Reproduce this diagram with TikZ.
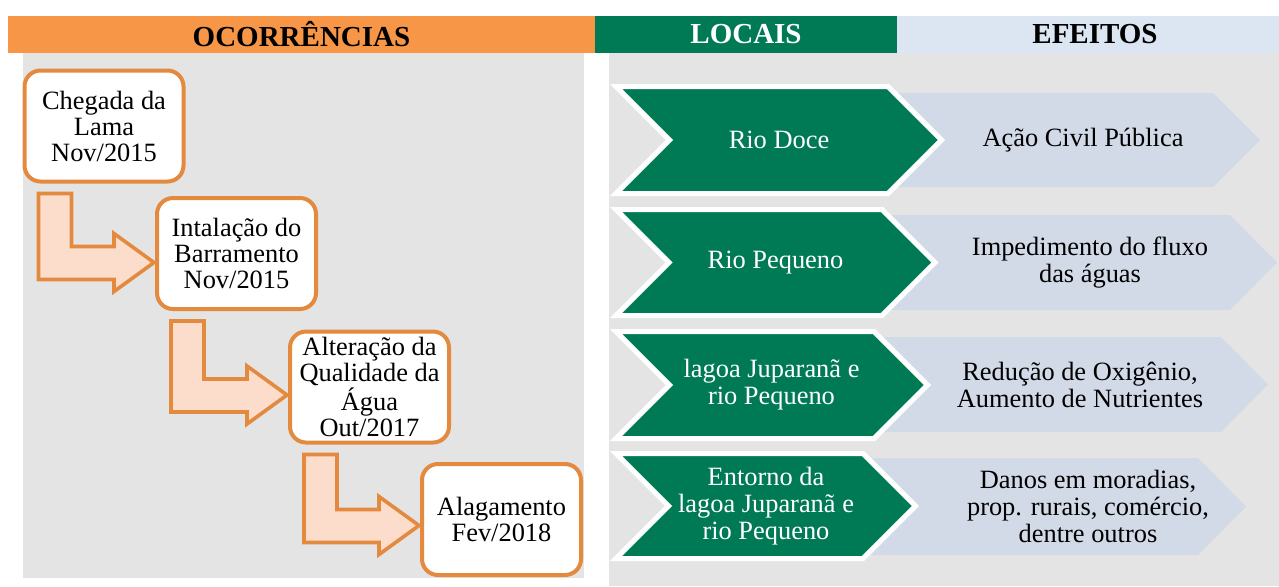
\documentclass[tikz,border=0pt]{standalone}
\usepackage{fontspec}
\setmainfont{Liberation Serif}
\usetikzlibrary{calc,positioning}
\definecolor{laranja}{HTML}{F79646}
\definecolor{verde}{HTML}{007A55}
\definecolor{azulcab}{HTML}{DCE6F2}
\definecolor{azulseta}{HTML}{D3DAE7}
\definecolor{cinza}{HTML}{E4E4E4}
\definecolor{borda}{HTML}{E38A3F}
\definecolor{pessego}{HTML}{FCDDCC}
\tikzset{
  cab/.style={minimum height=18.5pt,inner sep=0pt,font=\fontsize{14.5}{15}\selectfont\bfseries},
  ocor/.style={draw=borda,line width=2pt,fill=white,rounded corners=8pt,minimum width=79.5pt,
    minimum height=55.5pt,inner sep=0pt,align=center,font=\fontsize{13.2}{13}\selectfont},
  seta/.style={draw=borda,line width=1.8pt,fill=pessego,line join=miter},
  local/.style={fill=verde,draw=white,line width=2.5pt},
  efeito/.style={fill=azulseta},
  txt/.style={align=center,inner sep=0pt,font=\fontsize{13.2}{13.5}\selectfont}
}
\begin{document}
\begin{tikzpicture}[x=0.5pt,y=-0.5pt]
\useasboundingbox (0,0) rectangle (1279,586);
% fundos
\fill[cinza] (23,53) rectangle (584,578);
\fill[cinza] (609,53) rectangle (1279,586);
% cabecalhos
\node[cab,fill=laranja,minimum width=293.5pt] (h1) at (301.5,34.5) {OCORRÊNCIAS};
\node[cab,fill=verde,text=white,minimum width=151pt] (h2) at (746,34.5) {LOCAIS};
\node[cab,fill=azulcab,minimum width=198pt] (h3) at (1095,34.5) {EFEITOS};
% ocorrencias
\node[ocor] (c1) at (104,126) {Chegada da\\Lama\\Nov/2015};
\node[ocor] (c2) at (236.5,253.5) {Intalação do\\Barramento\\Nov/2015};
\node[ocor] (c3) at (369.5,387) {Alteração da\\Qualidade da\\Água\\Out/2017};
\node[ocor] (c4) at (501.5,519.5) {Alagamento\\Fev/2018};
\coordinate (a1) at ($(c1.south west)+(16,10)$);
\coordinate (t1) at ($(c2.west)+(-1,9)$);
\coordinate (a2) at ($(c2.south west)+(16,10)$);
\coordinate (t2) at ($(c3.west)+(-1,8)$);
\coordinate (a3) at ($(c3.south west)+(16,10)$);
\coordinate (t3) at ($(c4.west)+(-1,6)$);
\draw[seta] (a1) -- ++(33,0) |- ($(t1)+(-40,-16)$) -- ++(0,-13) -- (t1)
  -- ($(t1)+(-40,29)$) -- ++(0,-12) -| (a1) -- cycle;
\draw[seta] (a2) -- ++(33,0) |- ($(t2)+(-40,-16)$) -- ++(0,-13) -- (t2)
  -- ($(t2)+(-40,29)$) -- ++(0,-12) -| (a2) -- cycle;
\draw[seta] (a3) -- ++(33,0) |- ($(t3)+(-40,-16)$) -- ++(0,-13) -- (t3)
  -- ($(t3)+(-40,29)$) -- ++(0,-12) -| (a3) -- cycle;
% efeitos
\fill[efeito] (880,93) -- (1213,93) -- (1260,140) -- (1213,187) -- (880,187) -- (927,140) -- cycle;
\fill[efeito] (875,215) -- (1230,215) -- (1277,262.5) -- (1230,310) -- (875,310) -- (922,262.5) -- cycle;
\fill[efeito] (865,337) -- (1221,337) -- (1268,384.5) -- (1221,432) -- (865,432) -- (912,384.5) -- cycle;
\fill[efeito] (855,458) -- (1198,458) -- (1246,506.5) -- (1198,555) -- (855,555) -- (903,506.5) -- cycle;
% locais
\draw[local] (616,86.5) -- (888,86.5) -- (941.5,140) -- (888,193.5) -- (616,193.5) -- (669.5,140) -- cycle;
\draw[local] (616,209.5) -- (882,209.5) -- (935,262.5) -- (882,315.5) -- (616,315.5) -- (669,262.5) -- cycle;
\draw[local] (616,331.5) -- (874,331.5) -- (927.5,385) -- (874,438.5) -- (616,438.5) -- (669.5,385) -- cycle;
\draw[local] (616,453.5) -- (863,453.5) -- (915.5,506) -- (863,558.5) -- (616,558.5) -- (668.5,506) -- cycle;
\node[txt,text=white] (l1) at (779,140) {Rio Doce};
\node[txt,text=white] (l2) at (775.5,262.5) {Rio Pequeno};
\node[txt,text=white] (l3) at (771.5,385) {lagoa Juparanã e\\rio Pequeno};
\node[txt,text=white] (l4) at (766,506) {Entorno da\\lagoa Juparanã e\\rio Pequeno};
\node[txt] (e1) at (1083,140) {Ação Civil Pública};
\node[txt] (e2) at (1090,262.5) {Impedimento do fluxo\\das águas};
\node[txt] (e3) at (1080,385) {Redução de Oxigênio,\\Aumento de Nutrientes};
\node[txt] (e4) at (1088,506) {Danos em moradias,\\prop. rurais, comércio,\\dentre outros};
\end{tikzpicture}
\end{document}
